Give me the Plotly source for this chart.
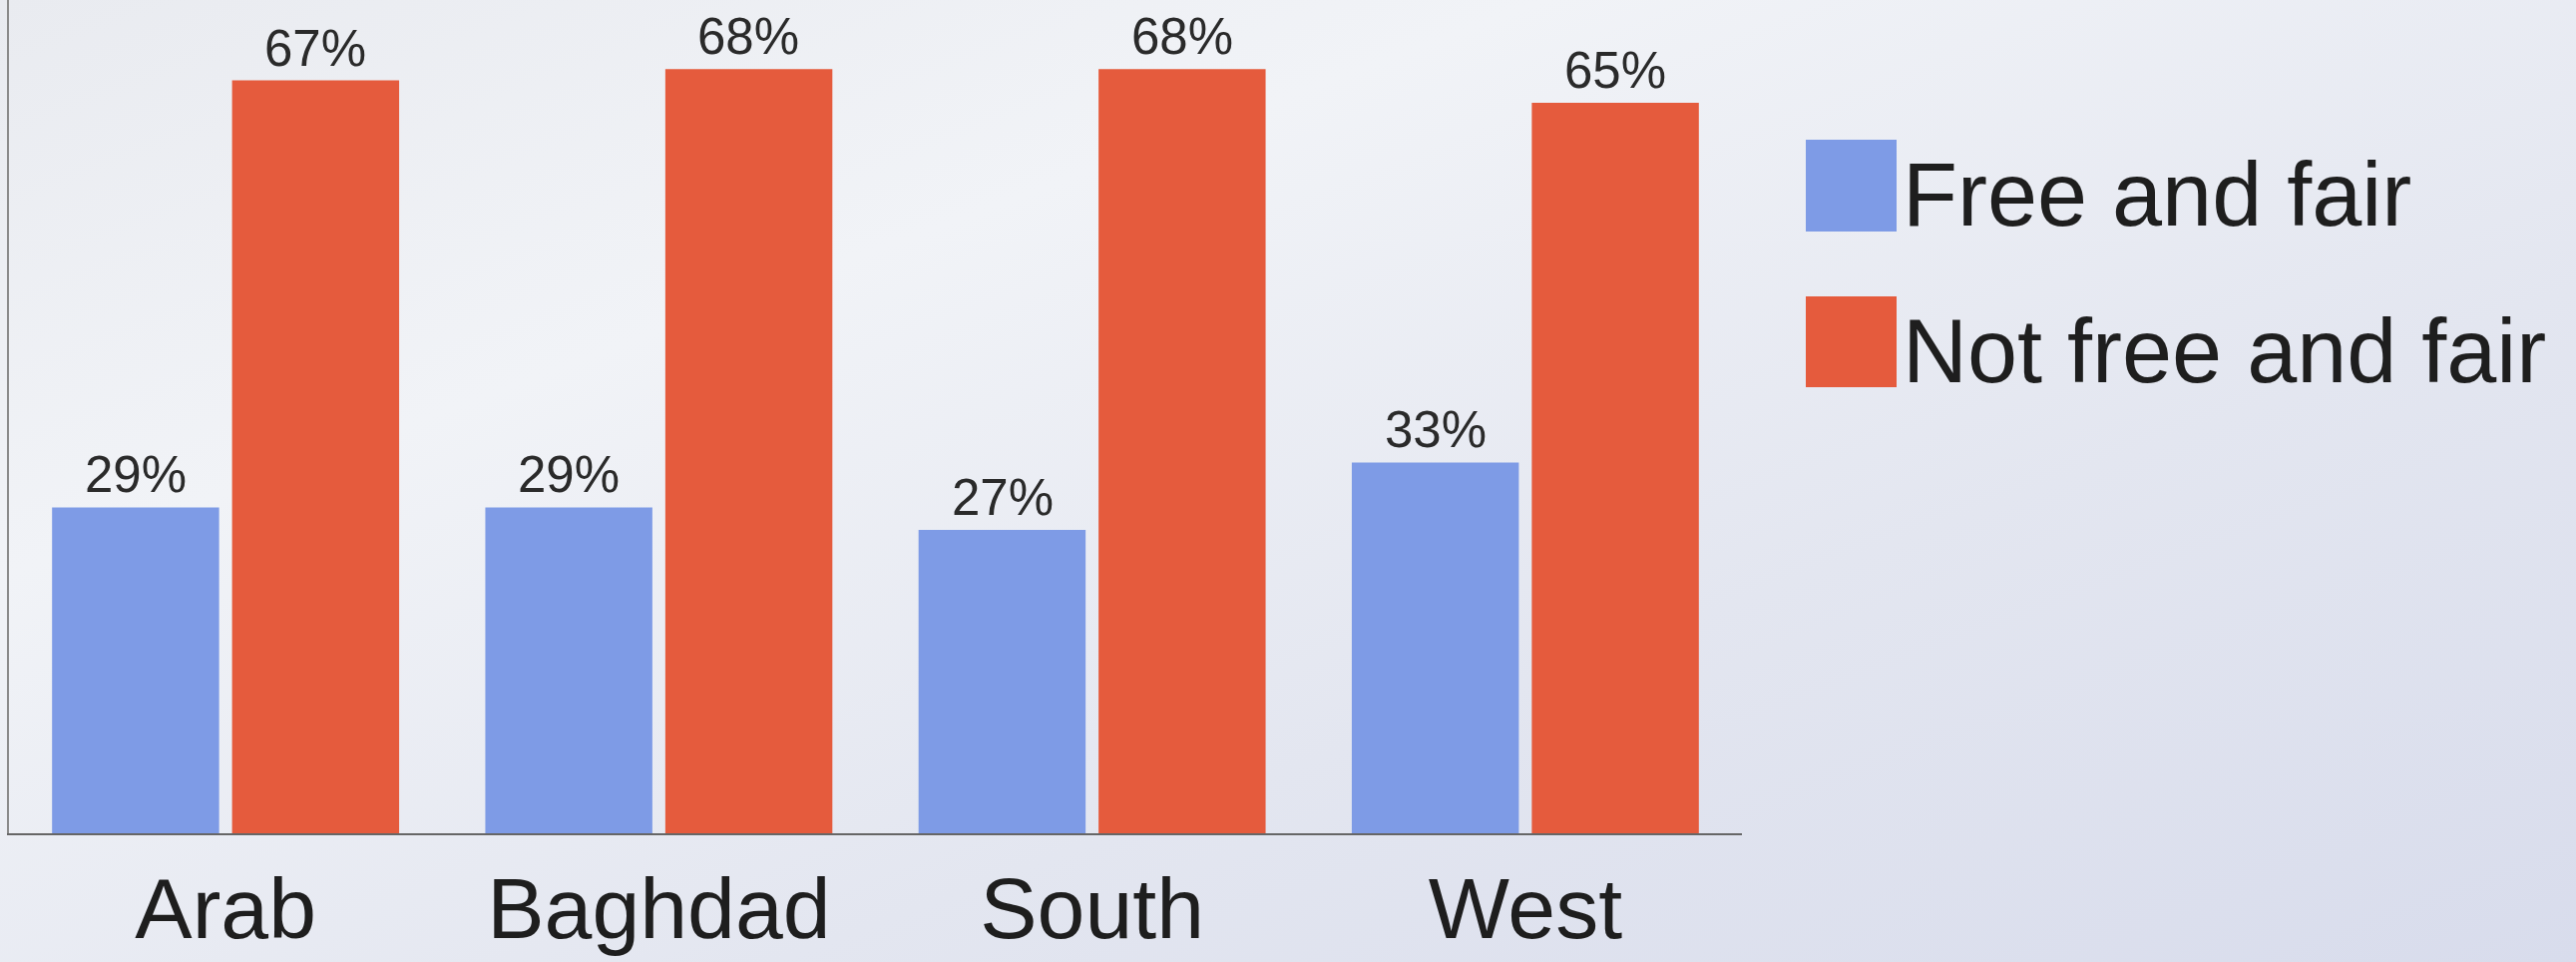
import base64
import plotly.graph_objects as go

categories = ["Arab", "Baghdad", "South", "West"]
series_names = ["Free and fair", "Not free and fair"]
free_and_fair = [29, 29, 27, 33]
not_free_and_fair = [67, 68, 68, 65]
series_values = [free_and_fair, not_free_and_fair]
series_colors = ["#7E9BE6", "#E55B3D"]

W, H = 2582, 964
ML, MR, MT, MB = 9, 836, 0, 129
FONT = "Liberation Sans, Arial, sans-serif"

fig = go.Figure()
for name, vals, col in zip(series_names, series_values, series_colors):
    fig.add_trace(go.Bar(x=categories, y=vals, name=name, marker=dict(color=col, line=dict(width=0)),
                         showlegend=False))

# value labels above bars
shifts = [-90, 90]
for vals, xs in zip(series_values, shifts):
    for c, v in zip(categories, vals):
        fig.add_annotation(x=c, y=v, xref="x", yref="y", text=f"{v}%", showarrow=False,
                           xshift=xs, yshift=2, yanchor="bottom",
                           font=dict(family=FONT, size=51, color="#2a2a2a"))

# custom legend (large swatches)
plot_w = W - ML - MR
plot_h = H - MT - MB
def px_x(p):
    return (p - ML) / plot_w
def px_y(p):
    return (H - MB - p) / plot_h

legend_rows = [(140, 232), (297, 388)]
for (top, bot), name, col in zip(legend_rows, series_names, series_colors):
    fig.add_shape(type="rect", xref="paper", yref="paper",
                  x0=px_x(1810), x1=px_x(1901), y0=px_y(bot), y1=px_y(top),
                  fillcolor=col, line=dict(width=0))
    fig.add_annotation(xref="paper", yref="paper", x=px_x(1905), y=px_y((top + bot) / 2 + 9),
                       text=name, showarrow=False, xanchor="left", yanchor="middle",
                       font=dict(family=FONT, size=90, color="#1e1e1e"))

# soft photographic-like background gradient
svg = (
    '<svg xmlns="http://www.w3.org/2000/svg" width="2582" height="964" viewBox="0 0 2582 964" '
    'preserveAspectRatio="none">'
    '<defs><linearGradient id="g" x1="0" y1="0" x2="1" y2="1">'
    '<stop offset="0" stop-color="#E9EBF0"/>'
    '<stop offset="0.3" stop-color="#F1F3F7"/>'
    '<stop offset="0.65" stop-color="#E3E6F0"/>'
    '<stop offset="1" stop-color="#D8DCEC"/>'
    '</linearGradient></defs>'
    '<rect width="2582" height="964" fill="url(#g)"/></svg>'
)
bg_src = "data:image/svg+xml;base64," + base64.b64encode(svg.encode()).decode()
fig.add_layout_image(source=bg_src, xref="paper", yref="paper",
                     x=px_x(0), y=px_y(0), sizex=W / plot_w, sizey=H / plot_h,
                     xanchor="left", yanchor="top", sizing="stretch", layer="below")

fig.update_layout(
    width=W, height=H,
    margin=dict(l=ML, r=MR, t=MT, b=MB),
    paper_bgcolor="#E7EAF1",
    plot_bgcolor="rgba(0,0,0,0)",
    barmode="group", bargap=0.169, bargroupgap=0.072,
    font=dict(family=FONT),
    xaxis=dict(showline=True, linecolor="#666666", linewidth=2, ticks="", showgrid=False,
               tickfont=dict(family=FONT, size=86, color="#1e1e1e"), range=[-0.5, 3.5]),
    yaxis=dict(showline=True, linecolor="#8a8a8a", linewidth=2, showgrid=False, zeroline=False,
               showticklabels=False, ticks="", range=[0, 74.15]),
)

fig.write_html("out.html", config={"displayModeBar": False},
               post_script="document.body.style.margin='0';")
